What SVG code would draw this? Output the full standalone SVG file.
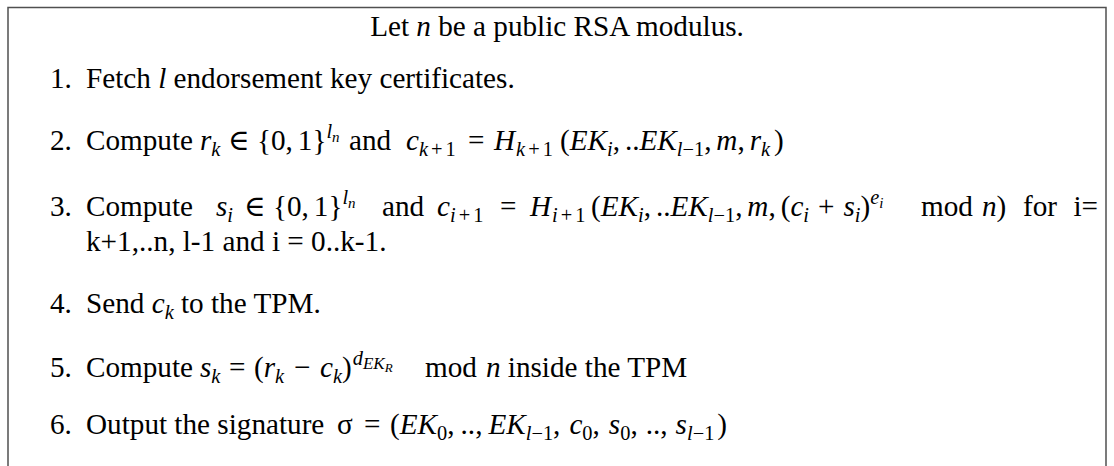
<svg xmlns="http://www.w3.org/2000/svg" width="1114" height="466" viewBox="0 0 1114 466">
  <style>
    .t { font-family: "Liberation Serif", "DejaVu Serif", serif; font-size: 29.2px; fill: #000; }
    .i { font-style: italic; }
    .s { font-size: 20.4px; }
    .ss { font-size: 15px; }
    .frame { fill: none; stroke: #505050; stroke-width: 1.5; }
  </style>
  <rect width="1114" height="466" fill="#fff"/>

  <!-- open frame: top, left and right rules only -->
  <path class="frame" d="M8,466 V7.5 H1106 V466"/>

  <g id="title">
    <text class="t" x="557" y="36" text-anchor="middle">Let <tspan class="i">n</tspan> be a public RSA modulus.</text>
  </g>

  <g id="step1">
    <text class="t" x="50" y="88">1.</text>
    <text class="t" x="86" y="88">Fetch <tspan class="i">l</tspan> endorsement key certificates.</text>
  </g>

  <g id="step2">
    <text class="t" x="50" y="150">2.</text>
    <text class="t" x="86" y="150">Compute</text>
    <text class="t" x="200" y="150"><tspan class="i">r</tspan><tspan class="s i" dy="6">k</tspan></text>
    <text class="t" x="228" y="150">∈</text>
    <text class="t" x="257" y="150">{0,<tspan dx="4.9">1}</tspan><tspan class="s i" dy="-12">l</tspan><tspan class="ss i" dy="4">n</tspan></text>
    <text class="t" x="349" y="150">and</text>
    <text class="t" x="406" y="150"><tspan class="i">c</tspan><tspan class="s" dy="6"><tspan class="i">k</tspan><tspan dx="3">+</tspan><tspan dx="3">1</tspan></tspan></text>
    <text class="t" x="468" y="150">=</text>
    <text class="t" x="494" y="150"><tspan class="i">H</tspan><tspan class="s" dy="6" dx="1"><tspan class="i">k</tspan><tspan dx="3">+</tspan><tspan dx="3">1</tspan></tspan></text>
    <text class="t" x="560" y="150">(<tspan class="i">EK</tspan><tspan class="s i" dy="6">i</tspan><tspan dy="-6">,</tspan><tspan dx="4.9">..</tspan><tspan class="i">EK</tspan><tspan class="s" dy="6"><tspan class="i">l</tspan>−1</tspan><tspan dy="-6">,</tspan><tspan class="i" dx="4.9">m</tspan>,<tspan class="i" dx="4.9">r</tspan><tspan class="s i" dy="6">k</tspan><tspan dy="-6" dx="4">)</tspan></text>
  </g>

  <g id="step3">
    <text class="t" x="50" y="216">3.</text>
    <text class="t" x="86" y="216">Compute</text>
    <text class="t" x="216" y="216"><tspan class="i">s</tspan><tspan class="s i" dy="6">i</tspan></text>
    <text class="t" x="244" y="216">∈</text>
    <text class="t" x="273" y="216">{0,<tspan dx="4.9">1}</tspan><tspan class="s i" dy="-12">l</tspan><tspan class="ss i" dy="4">n</tspan></text>
    <text class="t" x="382" y="216">and</text>
    <text class="t" x="437" y="216"><tspan class="i">c</tspan><tspan class="s" dy="6"><tspan class="i">i</tspan><tspan dx="3">+</tspan><tspan dx="3">1</tspan></tspan></text>
    <text class="t" x="500" y="216">=</text>
    <text class="t" x="530" y="216"><tspan class="i">H</tspan><tspan class="s" dy="6" dx="1"><tspan class="i">i</tspan><tspan dx="3">+</tspan><tspan dx="3">1</tspan></tspan></text>
    <text class="t" x="591" y="216">(<tspan class="i">EK</tspan><tspan class="s i" dy="6">i</tspan><tspan dy="-6">,</tspan><tspan dx="4.9">..</tspan><tspan class="i">EK</tspan><tspan class="s" dy="6"><tspan class="i">l</tspan>−1</tspan><tspan dy="-6">,</tspan><tspan class="i" dx="4.9">m</tspan>,<tspan dx="4.9">(</tspan><tspan class="i">c</tspan><tspan class="s i" dy="6">i</tspan><tspan dy="-6" dx="9">+</tspan><tspan class="i" dx="9">s</tspan><tspan class="s i" dy="6">i</tspan><tspan dy="-6">)</tspan><tspan class="s i" dy="-12">e</tspan><tspan class="ss i" dy="4">i</tspan></text>
    <text class="t" x="921" y="216">mod<tspan class="i" dx="9">n</tspan>)</text>
    <text class="t" x="1023" y="216">for</text>
    <text class="t" x="1098" y="216" text-anchor="end">i=</text>
    <text class="t" x="86" y="251">k+1,..n, l-1 and i = 0..k-1.</text>
  </g>

  <g id="step4">
    <text class="t" x="50" y="313">4.</text>
    <text class="t" x="86" y="313">Send <tspan class="i">c</tspan><tspan class="s i" dy="6">k</tspan><tspan dy="-6"> to the TPM.</tspan></text>
  </g>

  <g id="step5">
    <text class="t" x="50" y="377">5.</text>
    <text class="t" x="86" y="377">Compute</text>
    <text class="t" x="200" y="377"><tspan class="i">s</tspan><tspan class="s i" dy="6">k</tspan></text>
    <text class="t" x="229" y="377">=</text>
    <text class="t" x="254" y="377">(<tspan class="i">r</tspan><tspan class="s i" dy="6">k</tspan></text>
    <text class="t" x="294" y="377">−</text>
    <text class="t" x="320" y="377"><tspan class="i">c</tspan><tspan class="s i" dy="6">k</tspan><tspan dy="-6">)</tspan><tspan class="s i" dy="-12" dx="1">d</tspan><tspan class="i" font-size="17px" dy="4">EK</tspan><tspan class="i" font-size="13px" dy="3">R</tspan></text>
    <text class="t" x="425" y="377">mod<tspan class="i" dx="9">n</tspan><tspan dx="7.3">inside the TPM</tspan></text>
  </g>

  <g id="step6">
    <text class="t" x="50" y="434">6.</text>
    <text class="t" x="86" y="434">Output the signature</text>
    <text class="t" x="337" y="434">σ</text>
    <text class="t" x="364" y="434">=</text>
    <text class="t" x="390" y="434">(<tspan class="i">EK</tspan><tspan class="s" dy="6">0</tspan><tspan dy="-6">,</tspan><tspan dx="6">..,</tspan><tspan class="i" dx="6">EK</tspan><tspan class="s" dy="6"><tspan class="i">l</tspan>−1</tspan><tspan dy="-6">,</tspan><tspan class="i" dx="9">c</tspan><tspan class="s" dy="6">0</tspan><tspan dy="-6">,</tspan><tspan class="i" dx="9">s</tspan><tspan class="s" dy="6">0</tspan><tspan dy="-6">,</tspan><tspan dx="8">..,</tspan><tspan class="i" dx="8">s</tspan><tspan class="s" dy="6"><tspan class="i">l</tspan>−1</tspan><tspan dy="-6" dx="3">)</tspan></text>
  </g>
</svg>
